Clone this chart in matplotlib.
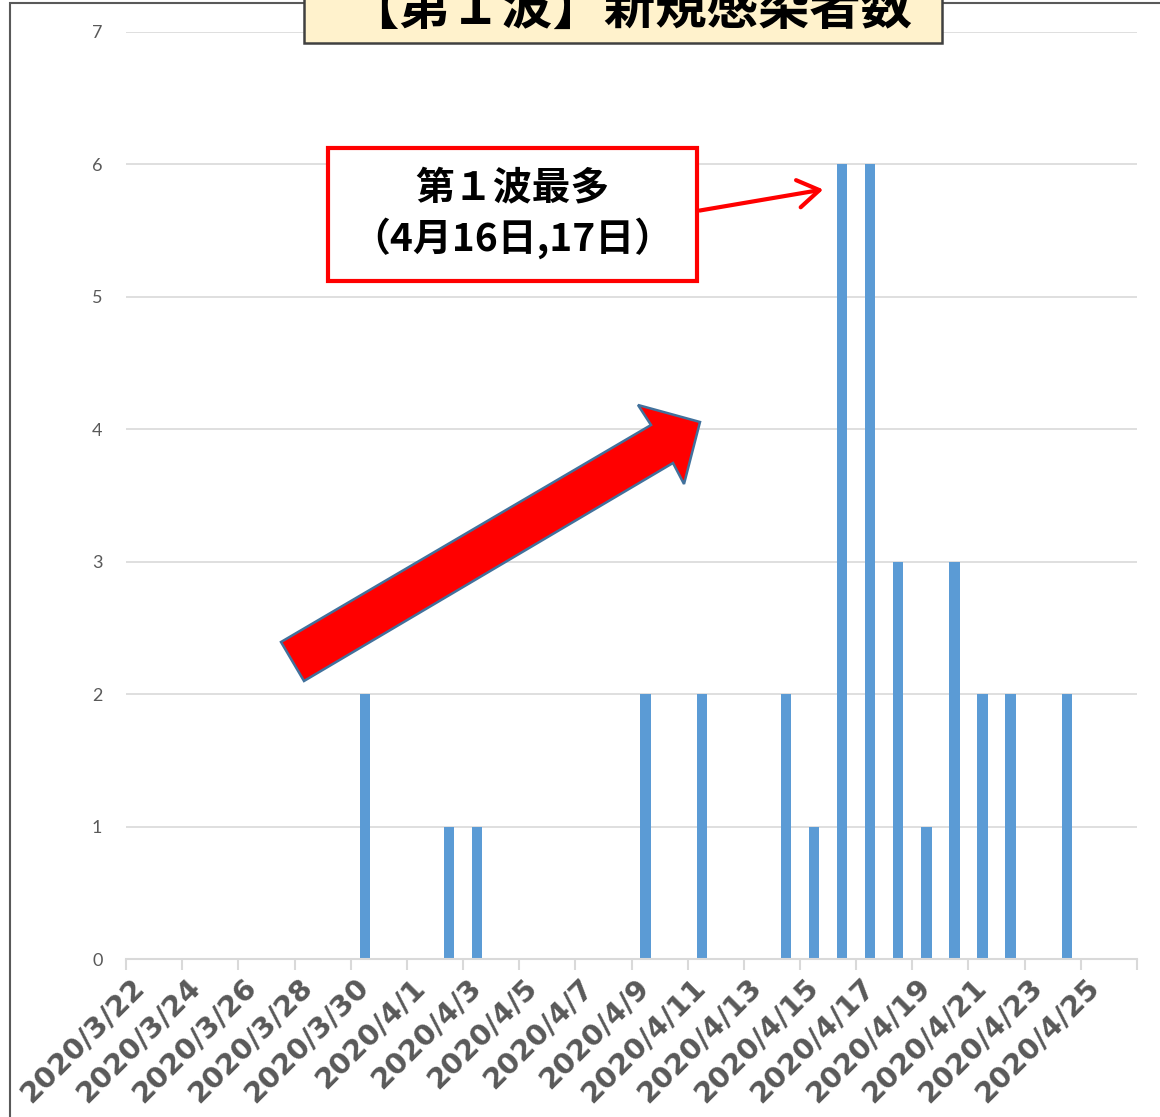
import numpy as np
import pandas as pd
import matplotlib
matplotlib.use('Agg')
import matplotlib.pyplot as plt
from matplotlib.patches import Polygon, Rectangle, FancyArrowPatch

plt.rcParams['font.family'] = ['Noto Sans CJK JP', 'DejaVu Sans']

# daily new cases, first wave (days not listed had 0)
dates = ['2020/3/30', '2020/4/2', '2020/4/3', '2020/4/9', '2020/4/11',
         '2020/4/14', '2020/4/15', '2020/4/16', '2020/4/17', '2020/4/18',
         '2020/4/19', '2020/4/20', '2020/4/21', '2020/4/22', '2020/4/24']
cases = [2, 1, 1, 2, 2, 2, 1, 6, 6, 3, 1, 3, 2, 2, 2]
start = '2020/3/22'
end = '2020/4/26'

title = '【第１波】新規感染者数'
note = '第１波最多\n（4月16日,17日）'

W, H = 1160, 1117


def px(x, y):
    # pixel position -> figure fraction
    return (x / W, 1 - y / H)


fig = plt.figure(figsize=(W / 100, H / 100), dpi=100)
ax = fig.add_axes([126 / W, 1 - 959 / H, (1137 - 126) / W, (959 - 32) / H])

t0 = pd.Timestamp(start)
days = (pd.to_datetime(dates) - t0).days
all_days = pd.date_range(start, end)
n_days = len(all_days)

ax.bar(days, cases, width=0.37, color='#5B9BD5', zorder=2)
ax.set_xlim(-0.5, n_days - 0.5)
ax.set_ylim(0, 7)

# tick marks on day boundaries, labels on every second day
ax.set_xticks(np.arange(-0.5, n_days, 2))
ax.set_xticklabels([])
lab_pos = np.arange(0, n_days - 1, 2)
labels = [f'{d.year}/{d.month}/{d.day}' for d in all_days[lab_pos]]
ax.set_xticks(lab_pos, minor=True)
ax.set_xticklabels(labels, minor=True, rotation=45, ha='right', va='center',
                   rotation_mode='anchor', fontsize=21, family='DejaVu Sans',
                   fontweight='bold', color='#595959')
ax.tick_params(axis='x', which='major', length=8, color='#d9d9d9', width=1.5)
ax.tick_params(axis='x', which='minor', length=0, pad=17)

ax.set_yticks(range(8))
ax.set_yticklabels([str(i) for i in range(8)], family='Lato', fontsize=13,
                   color='#595959')
ax.tick_params(axis='y', length=0, pad=17)

ax.yaxis.grid(True, color='#d9d9d9', lw=1.2)
ax.set_axisbelow(True)
for s in ['left', 'top', 'right']:
    ax.spines[s].set_visible(False)
ax.spines['bottom'].set_color('#d9d9d9')
ax.spines['bottom'].set_linewidth(1.5)

# outer chart border
fig.add_artist(Rectangle(px(10, 1130), 1.2, (1130 - 3) / H, fill=False,
                         edgecolor='#595959', lw=1.5, transform=fig.transFigure))

# title box (cut off at the top)
x0, y0 = px(304, 43)
fig.add_artist(Rectangle((x0, y0), (942 - 304) / W, 80 / H,
                         facecolor='#FFF2CC', edgecolor='#404040', lw=1.8,
                         transform=fig.transFigure))
fig.text(*px(630, 24), title, ha='center', va='baseline', fontsize=37,
         fontweight='bold', color='black')

# big red arrow
arrow_px = [(281, 642), (651, 425), (638, 405), (700, 422),
            (684, 484), (673, 463), (304, 681)]
fig.add_artist(Polygon([px(x, y) for x, y in arrow_px], closed=True,
                       facecolor='#FF0000', edgecolor='#41719C', lw=1.8,
                       transform=fig.transFigure))

# note box with thin arrow
bx, by = px(328, 281)
fig.add_artist(Rectangle((bx, by), (697 - 328) / W, (281 - 148) / H,
                         facecolor='white', edgecolor='#FF0000', lw=3,
                         transform=fig.transFigure))
fig.text(*px(512, 214), note, ha='center', va='center', fontsize=28,
         fontweight='bold', color='black', linespacing=1.3)
fig.add_artist(FancyArrowPatch(px(697, 211), px(826, 189),
                               arrowstyle='->,head_length=0.7,head_width=0.45',
                               mutation_scale=22, color='#FF0000', lw=3,
                               transform=fig.transFigure))

fig.savefig('out.png', dpi=100)
